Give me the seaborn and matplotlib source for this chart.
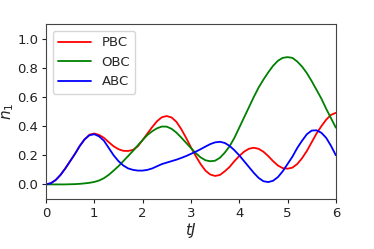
import numpy as np
import pandas as pd
import matplotlib
matplotlib.use("Agg")
import matplotlib.pyplot as plt
import seaborn as sns

# time grid tJ = 0 ... 6 in steps of 0.1
t = np.round(np.arange(0, 6.01, 0.1), 1)

pbc = [0.0, 0.008, 0.03, 0.065, 0.11, 0.16, 0.21, 0.265, 0.31, 0.342, 0.35,
       0.34, 0.32, 0.29, 0.262, 0.242, 0.231, 0.23, 0.237, 0.262, 0.305,
       0.35, 0.395, 0.435, 0.462, 0.47, 0.46, 0.43, 0.38, 0.32, 0.255,
       0.195, 0.14, 0.095, 0.068, 0.058, 0.065, 0.09, 0.12, 0.16, 0.195,
       0.225, 0.245, 0.252, 0.245, 0.225, 0.195, 0.16, 0.13, 0.112, 0.108,
       0.115, 0.14, 0.18, 0.23, 0.29, 0.35, 0.40, 0.445, 0.478, 0.492]

obc = [0.0, 0.0, 0.0, 0.0, 0.0, 0.001, 0.002, 0.004, 0.007, 0.011, 0.017,
       0.027, 0.043, 0.066, 0.095, 0.125, 0.16, 0.195, 0.23, 0.268, 0.305,
       0.34, 0.366, 0.386, 0.398, 0.397, 0.382, 0.356, 0.322, 0.286, 0.25,
       0.215, 0.186, 0.166, 0.159, 0.163, 0.183, 0.218, 0.262, 0.32, 0.39,
       0.46, 0.53, 0.60, 0.665, 0.72, 0.77, 0.815, 0.85, 0.87, 0.875,
       0.87, 0.845, 0.81, 0.765, 0.71, 0.65, 0.59, 0.52, 0.455, 0.39]

abc = [0.0, 0.008, 0.03, 0.065, 0.11, 0.16, 0.21, 0.265, 0.31, 0.338, 0.345,
       0.33, 0.30, 0.25, 0.20, 0.16, 0.13, 0.11, 0.10, 0.095, 0.095,
       0.10, 0.11, 0.125, 0.14, 0.15, 0.16, 0.17, 0.182, 0.195, 0.21,
       0.225, 0.242, 0.26, 0.277, 0.289, 0.293, 0.285, 0.265, 0.235, 0.20,
       0.16, 0.12, 0.08, 0.045, 0.022, 0.016, 0.025, 0.05, 0.09, 0.14,
       0.19, 0.25, 0.30, 0.345, 0.37, 0.372, 0.355, 0.32, 0.265, 0.20]

labels = ["PBC", "OBC", "ABC"]
colors = ["red", "green", "blue"]

df = pd.concat([
    pd.DataFrame({"tJ": t, "n1": pbc, "bc": "PBC"}),
    pd.DataFrame({"tJ": t, "n1": obc, "bc": "OBC"}),
    pd.DataFrame({"tJ": t, "n1": abc, "bc": "ABC"}),
])

sns.set_style("ticks")
plt.rcParams['font.family'] = ['DejaVu Sans']

fig = plt.figure(figsize=(3.74, 2.49), dpi=100)
ax = fig.add_axes([0.123, 0.201, 0.775, 0.701])

sns.lineplot(data=df, x="tJ", y="n1", hue="bc", hue_order=labels,
             palette=colors, linewidth=1.3, ax=ax)

ax.set_xlim(0, 6)
ax.set_ylim(-0.1, 1.1)
ax.set_xticks(range(0, 7))
ax.set_yticks([0.0, 0.2, 0.4, 0.6, 0.8, 1.0])
ax.tick_params(labelsize=9.5, length=3, width=0.8, colors='#222222', pad=2.5)
for s in ax.spines.values():
    s.set_color('#444444')
    s.set_linewidth(0.8)

ax.set_xlabel(r"$tJ$", fontsize=11, labelpad=1)
ax.set_ylabel(r"$n_1$", fontsize=11, labelpad=1)
ax.legend(loc="upper left", fontsize=9.5, frameon=True, handlelength=2.5)

fig.savefig("out.png", dpi=100)
